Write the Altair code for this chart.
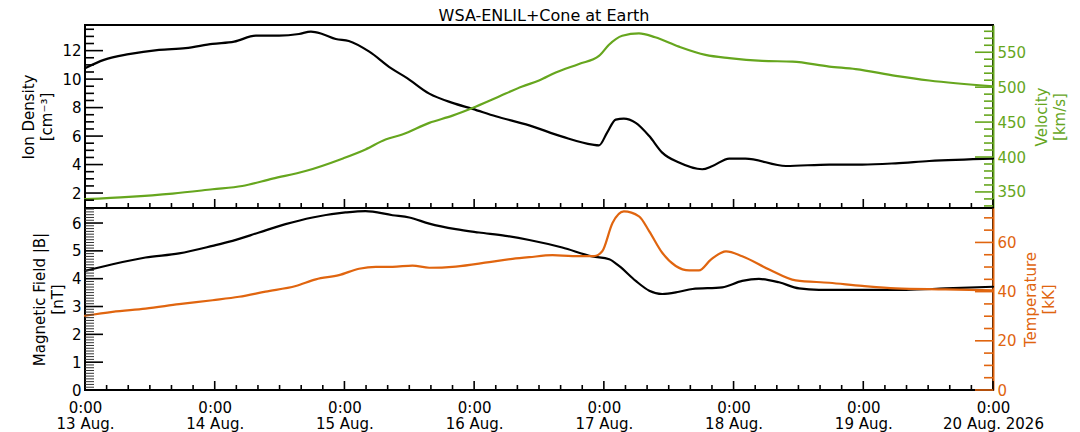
import altair as alt
import pandas as pd

# ---------------- data (hours after 13 Aug. 2026 0:00) ----------------
dens_hours = [0, 3.5, 8.1, 13.7, 18.6, 23.6, 27.6, 31.6, 35.9, 39.6, 41.8, 43.9, 46.4, 48.8, 52.6,
              56.6, 59.6, 63.7, 68.0, 71.7, 76.0, 82.2, 88.3, 93.9, 95.1, 96.6, 98.2, 99.7, 101.9,
              104.4, 106.8, 109.9, 114.2, 116.1, 119.2, 122.2, 129.7, 137.7, 143.8, 150.0, 156.2, 168]
density = [10.77, 11.35, 11.75, 12.05, 12.17, 12.47, 12.63, 13.05, 13.05, 13.17, 13.33, 13.17, 12.82,
           12.68, 11.93, 10.77, 10.07, 8.98, 8.33, 7.91, 7.39, 6.75, 5.96, 5.40, 5.35, 6.24, 7.16,
           7.23, 6.93, 6.0, 4.84, 4.14, 3.67, 3.9, 4.42, 4.42, 3.9, 4.0, 4.0, 4.09, 4.25, 4.42]

vel_hours = [0, 8.1, 16.2, 23.6, 29.1, 34.7, 40.8, 47.6, 51.9, 55.6, 58.7, 63.7, 68.0, 71.7, 76.0,
             80.9, 84.0, 87.1, 91.4, 95.1, 96.9, 99.4, 102.5, 105.5, 109.9, 114.8, 119.2, 125.3,
             130.9, 137.7, 142.6, 150.0, 156.2, 168]
velocity = [339.6, 342.9, 347.7, 353.8, 358.5, 369.1, 379.9, 397.6, 410.8, 425.0, 432.2, 448.9,
            459.3, 470.2, 484.5, 501.0, 509.5, 521.0, 533.3, 544.7, 560.4, 573.6, 577.0, 571.4,
            558.0, 546.2, 541.5, 537.6, 536.6, 529.5, 525.8, 516.2, 509.5, 501.0]

b_hours = [0, 5.1, 11.2, 17.4, 23.6, 27.3, 32.2, 37.1, 42.1, 48.2, 51.9, 56.9, 60.0, 63.7, 68.6,
           72.9, 77.8, 82.2, 88.3, 93.9, 97.0, 98.8, 101.9, 104.4, 106.8, 109.9, 112.4, 117.9,
           121.6, 124.7, 128.4, 132.1, 135.8, 143.8, 151.9, 159.2, 168]
bfield = [4.28, 4.52, 4.76, 4.91, 5.18, 5.36, 5.66, 5.96, 6.2, 6.38, 6.43, 6.28, 6.2, 5.98, 5.78,
          5.66, 5.54, 5.39, 5.12, 4.8, 4.7, 4.46, 3.92, 3.57, 3.45, 3.53, 3.63, 3.69, 3.92, 3.99,
          3.87, 3.65, 3.6, 3.6, 3.6, 3.65, 3.71]

temp_hours = [0, 5.1, 11.2, 17.4, 23.6, 28.5, 33.4, 39.0, 42.7, 47.0, 50.7, 53.8, 56.9, 60.6, 63.7,
              68.6, 74.8, 79.1, 82.2, 86.5, 90.2, 94.2, 95.7, 97.6, 99.7, 102.5, 104.4, 106.8,
              109.3, 111.8, 113.6, 115.8, 118.6, 121.6, 126.6, 131.5, 137.7, 143.8, 150.0, 159.2, 168]
temperature = [30.2, 31.8, 33.1, 34.9, 36.5, 37.9, 40.0, 42.3, 45.0, 46.7, 49.3, 50.1, 50.1, 50.6,
               49.7, 50.2, 52.0, 53.3, 54.0, 54.8, 54.4, 54.4, 56.4, 67.9, 72.6, 70.6, 64.5, 55.8,
               50.4, 48.6, 48.6, 53.0, 56.4, 54.4, 49.0, 44.6, 43.6, 42.3, 41.3, 40.9, 40.5]

# axis text and tick values
title_text = "WSA-ENLIL+Cone at Earth"
time_label = "0:00"
day_labels = ["13 Aug.", "14 Aug.", "15 Aug.", "16 Aug.", "17 Aug.", "18 Aug.", "19 Aug.", "20 Aug. 2026"]
x_major = [0, 24, 48, 72, 96, 120, 144, 168]
x_minor = [h for h in range(0, 169, 4) if h % 24 != 0]
dens_major = [2, 4, 6, 8, 10, 12]
dens_minor = [1.5, 2.5, 3, 3.5, 4.5, 5, 5.5, 6.5, 7, 7.5, 8.5, 9, 9.5, 10.5, 11, 11.5, 12.5, 13, 13.5]
vel_major = [350, 400, 450, 500, 550]
vel_minor = [v for v in range(330, 590, 10) if v % 50 != 0]
b_major = [0, 1, 2, 3, 4, 5, 6]
b_minor = [round(i / 10, 1) for i in range(1, 66) if i % 10 != 0]
temp_major = [0, 20, 40, 60]
temp_minor = [5, 10, 15, 25, 30, 35, 45, 50, 55, 65, 70]

dens_domain = [0.95, 13.8]
vel_domain = [327, 589]
b_domain = [0, 6.54]
temp_domain = [0, 74]

# ---------------- styling ----------------
FONT = "DejaVu Sans"
FS = 15
GREEN = "#66a61e"
ORANGE = "#e0650f"
W = 908
H1 = 183
H2 = 182
MAJ = 18
MIN = 9
XMAJ = 9
XMIN = 5

labels_js = "[" + ",".join("'" + d + "'" for d in day_labels) + "]"
x_label_expr = "['" + time_label + "', " + labels_js + "[round(datum.value / 24)]]"


def x_enc(show):
    if show:
        axis = alt.Axis(values=x_major, labelExpr=x_label_expr, labelFlush=False, labelOverlap=False,
                        labelPadding=10, labelLineHeight=16, labelColor="black", labelFont=FONT,
                        labelFontSize=FS, title=None, domain=False, ticks=False, grid=False)
    else:
        axis = None
    return alt.X("h:Q", scale=alt.Scale(domain=[0, 168], nice=False, zero=False), axis=axis)


def line(hours, vals, domain, color, axis):
    df = pd.DataFrame({"h": hours, "v": vals})
    return lambda xe: alt.Chart(df).mark_line(color=color, strokeWidth=2.2, interpolate="monotone",
                                              strokeCap="round", strokeJoin="round").encode(
        x=xe, y=alt.Y("v:Q", scale=alt.Scale(domain=domain, nice=False, zero=False), axis=axis))


def xticks(vals, length, H, xe):
    df = pd.DataFrame({"h": vals})
    return alt.Chart(df).mark_rule(color="black", strokeWidth=1.6).encode(
        x=xe, y=alt.value(H), y2=alt.value(H - length))


def yticks(vals, domain, side, length, color, xe, sw=1.6):
    df = pd.DataFrame({"v": vals})
    x0 = 0 if side == "left" else W
    x1 = length if side == "left" else W - length
    return alt.Chart(df).mark_rule(color=color, strokeWidth=sw).encode(
        y=alt.Y("v:Q", scale=alt.Scale(domain=domain, nice=False, zero=False), axis=None),
        x=alt.value(x0), x2=alt.value(x1))


def left_axis(values, title, tx, H):
    return alt.Axis(orient="left", values=values, title=title, labelPadding=4, labelColor="black",
                    labelFont=FONT, labelFontSize=FS, titleFont=FONT, titleFontSize=FS,
                    titleFontWeight="normal", titleColor="black", titleX=tx, titleY=H / 2,
                    titleAngle=270, titleBaseline="bottom", titleAlign="center",
                    titleLineHeight=18, domain=False, ticks=False, grid=False, labelFlush=False)


def right_axis(values, title, color, tx, H):
    return alt.Axis(orient="right", values=values, title=title, labelPadding=4, labelColor=color,
                    labelFont=FONT, labelFontSize=FS, titleFont=FONT, titleFontSize=FS,
                    titleFontWeight="normal", titleColor=color, titleX=tx, titleY=H / 2,
                    titleAngle=270, titleBaseline="top", titleAlign="center",
                    titleLineHeight=18, domain=True, domainColor=color, domainWidth=2,
                    ticks=False, grid=False, labelFlush=False)


# ---------------- top panel ----------------
xe_top = x_enc(False)
top = alt.layer(
    line(dens_hours, density, dens_domain, "black",
         left_axis(dens_major, ["Ion Density", "[cm\u207b\u00b3]"], -49, H1))(xe_top),
    line(vel_hours, velocity, vel_domain, GREEN,
         right_axis(vel_major, ["Velocity", "[km/s]"], GREEN, 41, H1))(xe_top),
    xticks(x_major, XMAJ, H1, xe_top),
    xticks(x_minor, XMIN, H1, xe_top),
    yticks(dens_major, dens_domain, "left", MAJ, "black", xe_top),
    yticks(dens_minor, dens_domain, "left", MIN, "black", xe_top),
    yticks(vel_major, vel_domain, "right", MAJ, GREEN, xe_top),
    yticks(vel_minor, vel_domain, "right", MIN, GREEN, xe_top),
).resolve_scale(y="independent").properties(width=W, height=H1)

# ---------------- bottom panel ----------------
xe_bot = x_enc(True)
bottom = alt.layer(
    line(b_hours, bfield, b_domain, "black",
         left_axis(b_major, ["Magnetic Field |B|", "[nT]"], -38, H2))(xe_bot),
    line(temp_hours, temperature, temp_domain, ORANGE,
         right_axis(temp_major, ["Temperature", "[kK]"], ORANGE, 30, H2))(xe_bot),
    xticks(x_major, XMAJ, H2, xe_bot),
    xticks(x_minor, XMIN, H2, xe_bot),
    yticks(b_major, b_domain, "left", MAJ, "black", xe_bot),
    yticks(b_minor, b_domain, "left", MIN, "#333333", xe_bot, 1.0),
    yticks(temp_major, temp_domain, "right", MAJ, ORANGE, xe_bot),
    yticks(temp_minor, temp_domain, "right", MIN, ORANGE, xe_bot),
).resolve_scale(y="independent").properties(width=W, height=H2)

chart = alt.vconcat(
    top, bottom, spacing=0, bounds="flush",
    title=alt.Title(title_text, font=FONT, fontSize=16, fontWeight="normal", color="black",
                    anchor="middle", offset=0),
).properties(
    padding={"left": 12, "top": 0, "right": 0, "bottom": 0},
    background="white",
).configure_view(
    stroke="black", strokeWidth=2
)

chart.save("out.html", embed_options={"renderer": "svg", "actions": False})
